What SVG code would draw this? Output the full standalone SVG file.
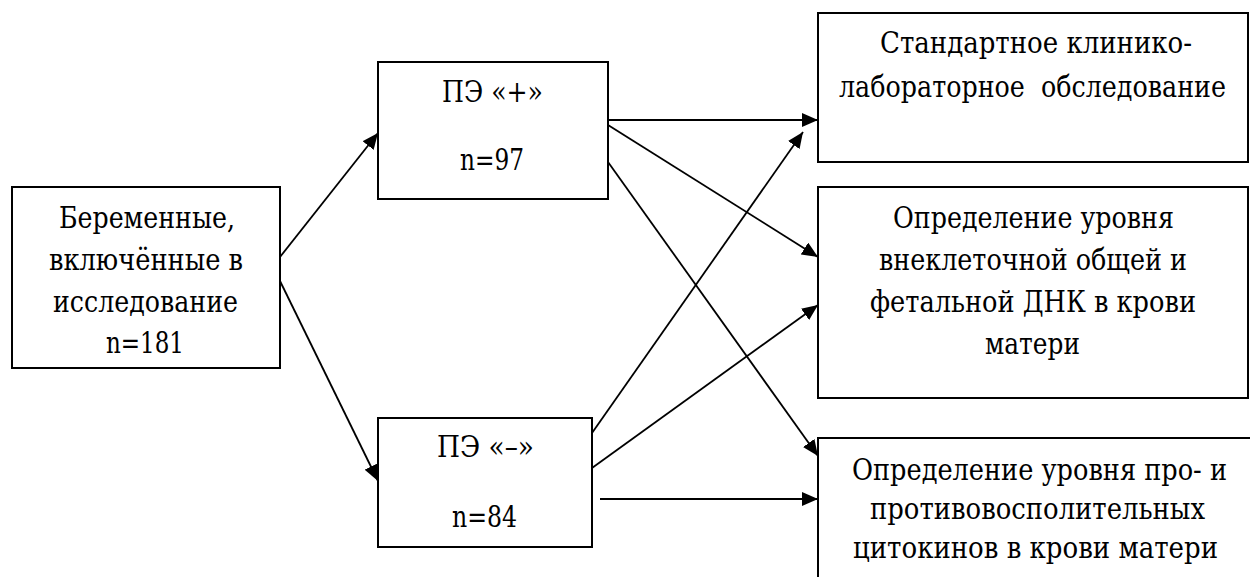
<svg xmlns="http://www.w3.org/2000/svg" width="1250" height="577" viewBox="0 0 1250 577">
<style>
.box{fill:#fff;stroke:#000;stroke-width:2}
.t{font-family:'DejaVu Serif','Liberation Serif','Times New Roman',serif;font-size:26px;fill:#000}
.c{stroke:#000;stroke-width:1.8;fill:none;marker-end:url(#ah)}
</style>
<defs>
<marker id="ah" markerUnits="userSpaceOnUse" markerWidth="17" markerHeight="14" refX="16" refY="7" orient="auto">
<path d="M0,0 L16,7 L0,14 z" fill="#000"/>
</marker>
</defs>
<rect width="1250" height="577" fill="#fff"/>
<g id="n-pregnant">
<rect class="box" x="12" y="187" width="268" height="181"/>
<text class="t" x="59" y="0" transform="translate(0 228) scale(1 1.12)" textLength="176" lengthAdjust="spacingAndGlyphs">Беременные,</text>
<text class="t" x="49" y="0" transform="translate(0 270) scale(1 1.12)" textLength="194" lengthAdjust="spacingAndGlyphs">включённые в</text>
<text class="t" x="53" y="0" transform="translate(0 312) scale(1 1.12)" textLength="185" lengthAdjust="spacingAndGlyphs">исследование</text>
<text class="t" x="106" y="0" transform="translate(0 353) scale(1 1.12)" textLength="78" lengthAdjust="spacingAndGlyphs">n=181</text>
</g>
<g id="n-pe-plus">
<rect class="box" x="378" y="62" width="230" height="137"/>
<text class="t" x="442" y="0" transform="translate(0 102) scale(1 1.12)" textLength="101" lengthAdjust="spacingAndGlyphs">ПЭ «+»</text>
<text class="t" x="460" y="0" transform="translate(0 170) scale(1 1.12)" textLength="64" lengthAdjust="spacingAndGlyphs">n=97</text>
</g>
<g id="n-pe-minus">
<rect class="box" x="378" y="418" width="214" height="129"/>
<text class="t" x="437" y="0" transform="translate(0 457) scale(1 1.12)" textLength="97" lengthAdjust="spacingAndGlyphs">ПЭ «–»</text>
<text class="t" x="452" y="0" transform="translate(0 527) scale(1 1.12)" textLength="65" lengthAdjust="spacingAndGlyphs">n=84</text>
</g>
<g id="n-standard">
<rect class="box" x="818" y="13" width="430" height="149"/>
<text class="t" x="880" y="0" transform="translate(0 53) scale(1 1.12)" textLength="312" lengthAdjust="spacingAndGlyphs">Стандартное клинико-</text>
<text class="t" x="839" y="0" transform="translate(0 97) scale(1 1.12)" textLength="387" lengthAdjust="spacingAndGlyphs" xml:space="preserve">лабораторное  обследование</text>
</g>
<g id="n-dna">
<rect class="box" x="818" y="187" width="430" height="211"/>
<text class="t" x="893" y="0" transform="translate(0 228) scale(1 1.12)" textLength="281" lengthAdjust="spacingAndGlyphs">Определение уровня</text>
<text class="t" x="879" y="0" transform="translate(0 270) scale(1 1.12)" textLength="308" lengthAdjust="spacingAndGlyphs">внеклеточной общей и</text>
<text class="t" x="870" y="0" transform="translate(0 312) scale(1 1.12)" textLength="326" lengthAdjust="spacingAndGlyphs">фетальной ДНК в крови</text>
<text class="t" x="985" y="0" transform="translate(0 354) scale(1 1.12)" textLength="95" lengthAdjust="spacingAndGlyphs">матери</text>
</g>
<g id="n-cytokines">
<rect class="box" x="818" y="438" width="440" height="200"/>
<text class="t" x="852" y="0" transform="translate(0 480) scale(1 1.12)" textLength="375" lengthAdjust="spacingAndGlyphs">Определение уровня про- и</text>
<text class="t" x="870" y="0" transform="translate(0 519) scale(1 1.12)" textLength="335" lengthAdjust="spacingAndGlyphs">противовосполительных</text>
<text class="t" x="853" y="0" transform="translate(0 558) scale(1 1.12)" textLength="365" lengthAdjust="spacingAndGlyphs">цитокинов в крови матери</text>
</g>
<g id="connectors">
<line class="c" x1="280" y1="257" x2="378" y2="133"/>
<line class="c" x1="280" y1="281" x2="378" y2="481"/>
<line class="c" x1="608" y1="120" x2="818" y2="120"/>
<line class="c" x1="608" y1="125" x2="818" y2="257"/>
<line class="c" x1="608" y1="162" x2="818" y2="456"/>
<line class="c" x1="592" y1="433" x2="803" y2="132"/>
<line class="c" x1="592" y1="468" x2="818" y2="305"/>
<line class="c" x1="600" y1="499" x2="818" y2="499"/>
</g>
</svg>
